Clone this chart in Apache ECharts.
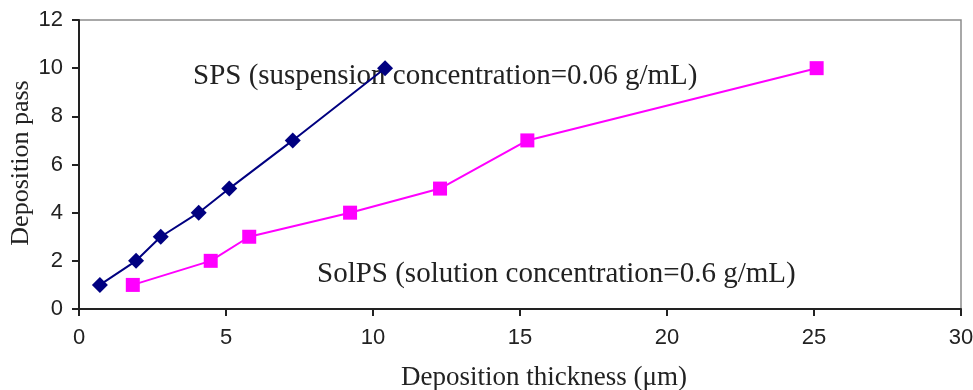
<!DOCTYPE html>
<html>
<head>
<meta charset="utf-8">
<script src="https://cdn.jsdelivr.net/npm/echarts@6/dist/echarts.min.js"></script>
<style>html,body{margin:0;padding:0;background:#fff}#c{width:973px;height:390px}</style>
</head>
<body>
<div id="c"></div>
<script>
const spsThickness = [0.71, 1.94, 2.78, 4.07, 5.11, 7.27, 10.41];
const spsPass = [1, 2, 3, 4, 5, 7, 10];
const solpsThickness = [1.83, 4.48, 5.79, 9.22, 12.28, 15.25, 25.09];
const solpsPass = [1, 2, 3, 4, 5, 7, 10];
const xTicks = [0, 5, 10, 15, 20, 25, 30];
const yTicks = [0, 2, 4, 6, 8, 10, 12];
const spsLabel = 'SPS (suspension concentration=0.06 g/mL)';
const solpsLabel = 'SolPS (solution concentration=0.6 g/mL)';
const xTitle = 'Deposition thickness (\u03bcm)';
const yTitle = 'Deposition pass';

const chart = echarts.init(document.getElementById('c'));
const sans = 'Liberation Sans';
chart.setOption({
  animation: false,
  grid: {left: 79, right: 12, top: 20, bottom: 81, outerBoundsMode: 'none', containLabel: false,
         show: true, borderColor: '#8c8c8c', borderWidth: 1.5},
  xAxis: {
    type: 'value', min: xTicks[0], max: xTicks[xTicks.length-1], interval: 5,
    axisLine: {show: true, lineStyle: {color: '#222', width: 2}},
    axisTick: {show: true, length: 7, lineStyle: {color: '#222', width: 2}},
    axisLabel: {fontFamily: sans, fontSize: 22, color: '#222', margin: 18},
    splitLine: {show: false}
  },
  yAxis: {
    type: 'value', min: yTicks[0], max: yTicks[yTicks.length-1], interval: 2,
    axisLine: {show: true, lineStyle: {color: '#222', width: 2}},
    axisTick: {show: true, length: 7, lineStyle: {color: '#222', width: 2}},
    axisLabel: {fontFamily: sans, fontSize: 22, color: '#222', margin: 16},
    splitLine: {show: false}
  },
  series: [
    {
      type: 'line', name: 'SPS',
      data: spsThickness.map((x, i) => [x, spsPass[i]]),
      symbol: 'diamond', symbolSize: 16,
      lineStyle: {color: '#000080', width: 2},
      itemStyle: {color: '#000080'}
    },
    {
      type: 'line', name: 'SolPS',
      data: solpsThickness.map((x, i) => [x, solpsPass[i]]),
      symbol: 'rect', symbolSize: 14,
      lineStyle: {color: '#ff00ff', width: 2},
      itemStyle: {color: '#ff00ff'}
    }
  ],
  graphic: [
    {type: 'text', x: 193, y: 62, style: {text: spsLabel, font: '29px "Liberation Serif"', fill: '#222', textBaseline: 'alphabetic'}},
    {type: 'text', x: 317, y: 260, style: {text: solpsLabel, font: '29px "Liberation Serif"', fill: '#222', textBaseline: 'alphabetic'}},
    {type: 'text', x: 544, y: 378, style: {text: xTitle, font: '27px "Liberation Serif"', fill: '#222', align: 'center', verticalAlign: 'middle'}},
    {type: 'text', x: 21, y: 163, rotation: Math.PI / 2, style: {text: yTitle, font: '26px "Liberation Serif"', fill: '#222', align: 'center', verticalAlign: 'middle'}}
  ]
});
</script>
</body>
</html>
